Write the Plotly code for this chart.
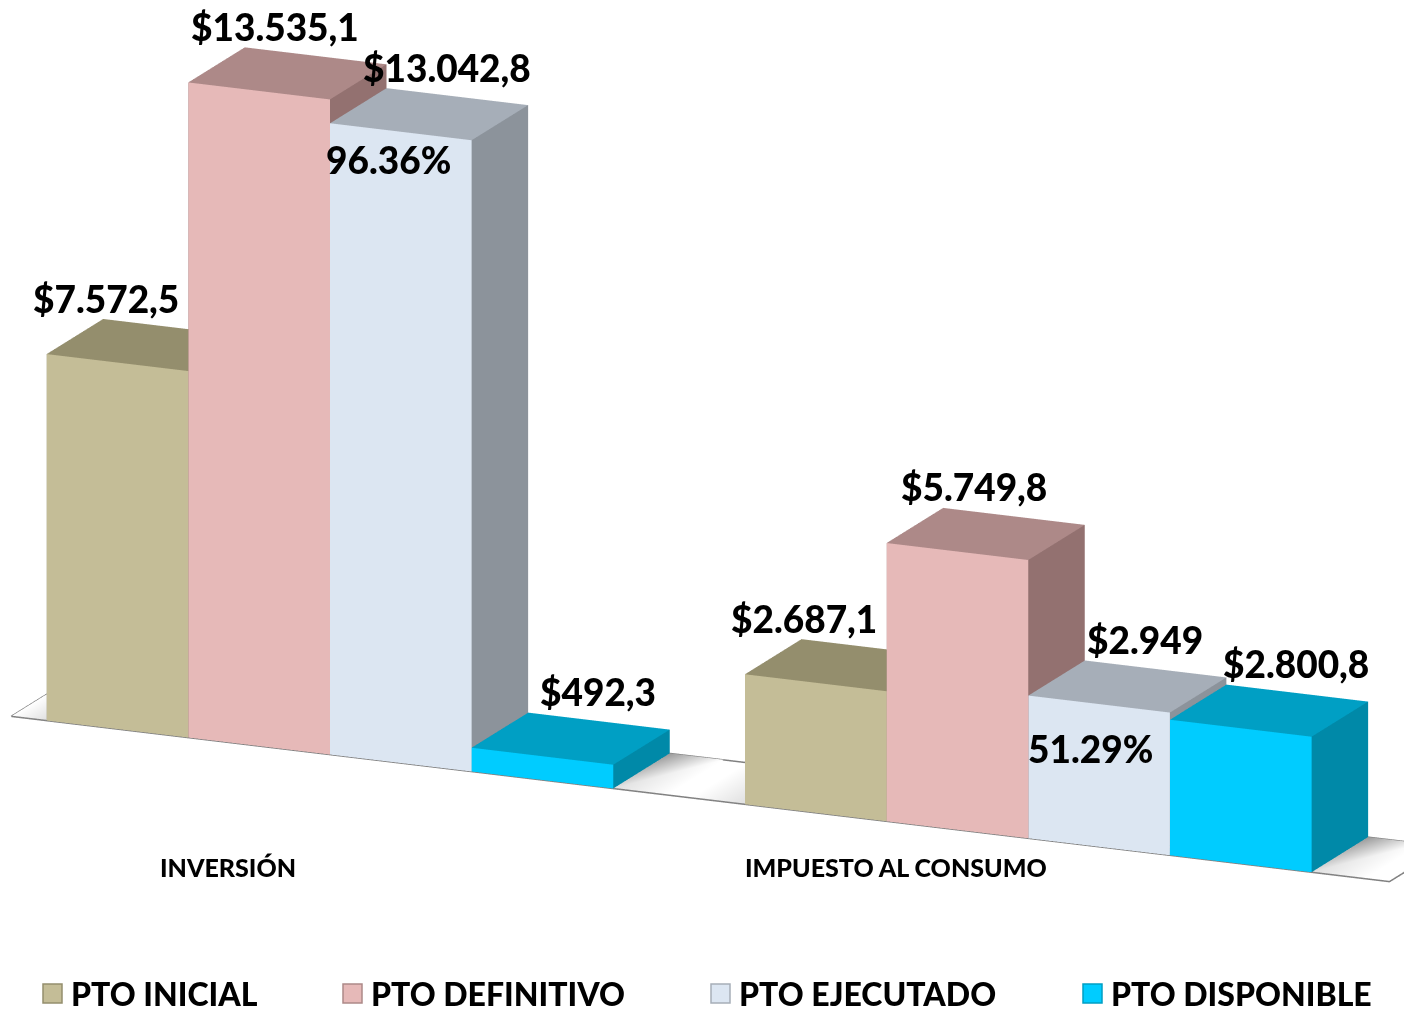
import plotly.graph_objects as go

# ---------------- data ----------------
categories = ["INVERSIÓN", "IMPUESTO AL CONSUMO"]
series_names = ["PTO INICIAL", "PTO DEFINITIVO", "PTO EJECUTADO", "PTO DISPONIBLE"]
pto_inicial = [7572.5, 2687.1]
pto_definitivo = [13535.1, 5749.8]
pto_ejecutado = [13042.8, 2949.0]
pto_disponible = [492.3, 2800.8]
series_values = [pto_inicial, pto_definitivo, pto_ejecutado, pto_disponible]

# ---------------- style ----------------
front_colors = ["#C4BD97", "#E6B9B8", "#DCE6F2", "#00CCFF"]
top_colors = ["#948E6D", "#AD8988", "#A6AEB8", "#009FC4"]
side_colors = ["#7F7A5C", "#937170", "#8C939B", "#0089A8"]

W, H = 1412, 1010
OFF = 8  # page body margin
BAR_W = 1.0
DEPTH = 0.94
GAP = 0.93
Z_MAX = 14000.0
FONT = "Lato"
WEIGHT = 900


def px(X):
    return (X - OFF) / W


def py(Y):
    return 1 - (Y - OFF) / H


def fmt(v):
    if abs(v - round(v)) < 1e-9:
        s = f"{int(round(v)):,}".replace(",", ".")
    else:
        s = f"{v:,.1f}".replace(",", "X").replace(".", ",").replace("X", ".")
    return "$" + s


def bar_x0(c, k):
    return c * (len(series_names) + GAP) + k * BAR_W


fig = go.Figure()

# bars as 3D boxes
for k, vals in enumerate(series_values):
    X, Y, Z, I, J, K, FC = [], [], [], [], [], [], []
    for c, v in enumerate(vals):
        x0 = bar_x0(c, k)
        x1 = x0 + BAR_W
        y0, y1 = 0.0, DEPTH
        b = len(X)
        pts = [(x0, y0, 0), (x1, y0, 0), (x1, y0, v), (x0, y0, v),
               (x0, y1, 0), (x1, y1, 0), (x1, y1, v), (x0, y1, v)]
        for p in pts:
            X.append(p[0]); Y.append(p[1]); Z.append(p[2])
        tris = [((0, 1, 2), front_colors[k]), ((0, 2, 3), front_colors[k]),
                ((3, 2, 6), top_colors[k]), ((3, 6, 7), top_colors[k]),
                ((1, 5, 6), side_colors[k]), ((1, 6, 2), side_colors[k]),
                ((0, 3, 7), side_colors[k]), ((0, 7, 4), side_colors[k])]
        for (a, bb, cc), col in tris:
            I.append(b + a); J.append(b + bb); K.append(b + cc); FC.append(col)
    fig.add_trace(go.Mesh3d(
        x=X, y=Y, z=Z, i=I, j=J, k=K, facecolor=FC, flatshading=True,
        lighting=dict(ambient=1.0, diffuse=0.0, specular=0.0, roughness=1.0, fresnel=0.0),
        hoverinfo="skip", showlegend=False, name=series_names[k]))

# floor limits
fx0 = -0.25
fx1 = bar_x0(1, len(series_names) - 1) + BAR_W + 0.55

# soft shadows on the floor beside the outer bars of each group
SH = 0.38
SHADE = "#9A9A9A"
sx, sy, sz, si, sj, sk, sc = [], [], [], [], [], [], []
for c in range(len(categories)):
    left = bar_x0(c, 0)
    right = bar_x0(c, len(series_names) - 1) + BAR_W
    for xa, xb in [(left, max(left - SH, fx0)), (right, right + SH)]:
        b = len(sx)
        for (xx, yy, col) in [(xa, 0.0, "#E0E0E0"), (xb, 0.0, "#FFFFFF"),
                              (xb, DEPTH, "#FFFFFF"), (xa, DEPTH, SHADE)]:
            sx.append(xx); sy.append(yy); sz.append(3.0); sc.append(col)
        si += [b, b]; sj += [b + 1, b + 2]; sk += [b + 2, b + 3]
fig.add_trace(go.Mesh3d(
    x=sx, y=sy, z=sz, i=si, j=sj, k=sk, vertexcolor=sc,
    lighting=dict(ambient=1.0, diffuse=0.0, specular=0.0, roughness=1.0, fresnel=0.0),
    hoverinfo="skip", showlegend=False))

# floor outline
fig.add_trace(go.Scatter3d(
    x=[fx0, fx1, fx1, fx0, fx0], y=[0, 0, DEPTH, DEPTH, 0], z=[0, 0, 0, 0, 0],
    mode="lines", line=dict(color="#808080", width=3), hoverinfo="skip", showlegend=False))

# annotations in the scene
lab_font = dict(family=FONT, size=37, color="black", weight=WEIGHT)
scene_ann = []
label_dx = [-40, -12, 18, 27]
for k, vals in enumerate(series_values):
    for c, v in enumerate(vals):
        xc = bar_x0(c, k) + BAR_W / 2
        scene_ann.append(dict(x=xc, y=DEPTH / 2, z=v, text=fmt(v), showarrow=False,
                              xshift=label_dx[k], yshift=47, font=lab_font))
pct_dx = [-12, -9]
pct_dy = [-28, -44]
for c in range(len(categories)):
    pct = pto_ejecutado[c] / pto_definitivo[c] * 100
    xc = bar_x0(c, 2) + BAR_W / 2
    scene_ann.append(dict(x=xc, y=0, z=pto_ejecutado[c], text=f"{pct:.2f}%", showarrow=False,
                          xshift=pct_dx[c], yshift=pct_dy[c], font=lab_font))

ax_common = dict(visible=False, showbackground=False, showgrid=False, zeroline=False,
                 showticklabels=False, showspikes=False, title="")
x_lo, x_hi = -0.5, bar_x0(1, 3) + BAR_W + 0.6
y_lo, y_hi = -0.1, 1.0
z_lo, z_hi = 0.0, Z_MAX
kx = 0.296
x_len_ref = bar_x0(1, 3) + BAR_W + 1.0
aspect = dict(x=x_len_ref * kx * 1.035 * (x_hi - x_lo) / x_len_ref, y=(y_hi - y_lo) * kx,
              z=(z_hi - z_lo) * 0.3366 / 1000 * kx)

# point of the data that sits at the middle of the view
cw = (4.499, 0.5, 5482.0)
center = dict(
    x=(cw[0] - (x_lo + x_hi) / 2) / (x_hi - x_lo) * aspect["x"],
    y=(cw[1] - (y_lo + y_hi) / 2) / (y_hi - y_lo) * aspect["y"],
    z=(cw[2] - (z_lo + z_hi) / 2) / (z_hi - z_lo) * aspect["z"],
)
dirv = (0.387, -0.881, 0.273)
dist = 3.0
eye = dict(x=center["x"] + dist * dirv[0], y=center["y"] + dist * dirv[1], z=center["z"] + dist * dirv[2])

fig.update_layout(
    width=W, height=H, margin=dict(l=0, r=0, t=0, b=0),
    paper_bgcolor="white", plot_bgcolor="white", showlegend=False,
    scene=dict(
        domain=dict(x=[0, 1], y=[0, 1]),
        xaxis=dict(range=[x_lo, x_hi], **ax_common),
        yaxis=dict(range=[y_lo, y_hi], **ax_common),
        zaxis=dict(range=[z_lo, z_hi], **ax_common),
        aspectmode="manual", aspectratio=aspect,
        camera=dict(eye=eye, center=center, up=dict(x=0, y=0, z=1),
                    projection=dict(type="orthographic")),
        annotations=scene_ann, bgcolor="white",
    ),
)

# category labels
cat_pos = [(228, 867), (896, 867)]
for name, (X0, Y0) in zip(categories, cat_pos):
    fig.add_annotation(x=px(X0), y=py(Y0), xref="paper", yref="paper", text=name,
                       showarrow=False, xanchor="center", yanchor="middle",
                       font=dict(family=FONT, size=25, color="black", weight=WEIGHT))

# legend
leg_x = [43, 343, 711, 1083]
leg_y = 993
for k, name in enumerate(series_names):
    X0 = leg_x[k]
    fig.add_shape(type="rect", xref="paper", yref="paper",
                  x0=px(X0), x1=px(X0 + 19), y0=py(leg_y + 10), y1=py(leg_y - 9),
                  fillcolor=front_colors[k], line=dict(color=top_colors[k], width=1.5))
    fig.add_annotation(x=px(X0 + 26), y=py(leg_y), xref="paper", yref="paper", text=name,
                       showarrow=False, xanchor="left", yanchor="middle",
                       font=dict(family=FONT, size=32, color="black", weight=WEIGHT))

fig.write_html("out.html")
